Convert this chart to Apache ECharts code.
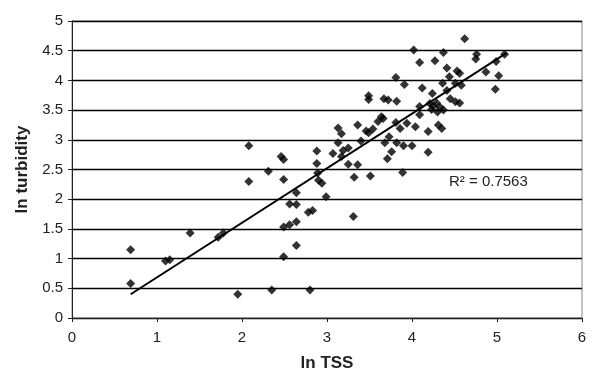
<!DOCTYPE html>
<html>
<head>
<meta charset="utf-8">
<script src="https://cdn.jsdelivr.net/npm/echarts@6/dist/echarts.min.js"></script>
<style>
  html, body { margin: 0; padding: 0; background: #fff; }
  #chart { width: 595px; height: 371px; }
</style>
</head>
<body>
<div id="chart"></div>
<script>
// ln TSS vs ln turbidity
const lnTSS = [
  0.69, 0.69, 1.10, 1.15, 1.39, 1.72, 1.78, 1.95, 2.08, 2.08,
  2.31, 2.35, 2.46, 2.49, 2.49, 2.49, 2.49, 2.56, 2.56, 2.64,
  2.64, 2.64, 2.64, 2.78, 2.80, 2.83, 2.88, 2.88, 2.89, 2.90,
  2.94, 2.99, 3.07, 3.13, 3.13, 3.17, 3.17, 3.19, 3.25, 3.25,
  3.31, 3.32, 3.36, 3.36, 3.40, 3.46, 3.49, 3.49, 3.49, 3.51,
  3.54, 3.60, 3.64, 3.66, 3.67, 3.68, 3.71, 3.72, 3.73, 3.76,
  3.81, 3.81, 3.82, 3.82, 3.86, 3.89, 3.90, 3.91, 3.94, 4.00,
  4.02, 4.04, 4.09, 4.09, 4.09, 4.12, 4.19, 4.19, 4.21, 4.23,
  4.24, 4.25, 4.27, 4.29, 4.30, 4.31, 4.33, 4.35, 4.36, 4.37,
  4.37, 4.41, 4.41, 4.44, 4.45, 4.51, 4.51, 4.53, 4.56, 4.56,
  4.58, 4.62, 4.75, 4.76, 4.87, 4.98, 4.99, 5.02, 5.09
];
const lnTurbidity = [
  1.15, 0.58, 0.96, 0.98, 1.43, 1.36, 1.43, 0.40, 2.90, 2.30,
  2.47, 0.47, 2.72, 2.67, 2.33, 1.53, 1.03, 1.57, 1.92, 1.91,
  1.62, 2.11, 1.22, 1.78, 0.47, 1.81, 2.81, 2.60, 2.44, 2.32,
  2.27, 2.04, 2.77, 3.20, 2.95, 3.10, 2.72, 2.82, 2.86, 2.59,
  1.71, 2.37, 3.25, 2.58, 2.98, 3.15, 3.12, 3.74, 3.68, 2.39,
  3.18, 3.31, 3.39, 3.36, 3.69, 2.95, 2.68, 3.67, 3.05, 2.80,
  4.05, 3.29, 3.65, 2.95, 3.19, 2.45, 2.90, 3.93, 3.28, 2.90,
  4.51, 3.22, 4.30, 3.56, 3.42, 3.87, 3.14, 2.79, 3.61, 3.51,
  3.78, 3.57, 4.33, 3.62, 3.47, 3.25, 3.55, 3.19, 3.95, 4.47,
  3.50, 4.21, 3.83, 4.06, 3.69, 3.95, 3.64, 4.16, 4.12, 3.62,
  3.92, 4.70, 4.36, 4.44, 4.14, 3.85, 4.32, 4.08, 4.44
];
// linear trendline end points
const trendX = [0.69, 5.11];
const trendY = [0.40, 4.46];
const rSquared = "R² = 0.7563";

const chart = echarts.init(document.getElementById("chart"));
const font = "Liberation Sans, Arial, sans-serif";

chart.setOption({
  animation: false,
  grid: {
    left: 72, right: 13, top: 21, bottom: 53,
    outerBoundsMode: "none",
    show: true, borderColor: "#888", borderWidth: 1
  },
  xAxis: {
    type: "value",
    min: 0, max: 6, interval: 1,
    name: "ln TSS",
    nameLocation: "middle",
    nameGap: 37,
    nameTextStyle: { fontFamily: font, fontSize: 17, fontWeight: "bold", color: "#222" },
    axisLine: { show: true, onZero: false, lineStyle: { color: "#222", width: 1 } },
    axisTick: { show: true, length: 4, lineStyle: { color: "#222" } },
    axisLabel: { fontFamily: font, fontSize: 15, color: "#222", margin: 12 },
    splitLine: { show: false }
  },
  yAxis: {
    type: "value",
    min: 0, max: 5, interval: 0.5,
    name: "ln turbidity",
    nameLocation: "middle",
    nameGap: 38,
    nameTextStyle: { fontFamily: font, fontSize: 17, fontWeight: "bold", color: "#222" },
    axisLine: { show: true, onZero: false, lineStyle: { color: "#222", width: 1 } },
    axisTick: { show: true, length: 4, lineStyle: { color: "#222" } },
    axisLabel: { fontFamily: font, fontSize: 15, color: "#222", margin: 9 },
    splitLine: { show: true, lineStyle: { color: "#000", width: 1.3 } }
  },
  series: [
    {
      type: "scatter",
      symbol: "diamond",
      symbolSize: 9,
      itemStyle: { color: "#000" },
      data: lnTSS.map((x, i) => [x, lnTurbidity[i]]),
      z: 3
    },
    {
      type: "line",
      data: trendX.map((x, i) => [x, trendY[i]]),
      showSymbol: false,
      symbol: "none",
      lineStyle: { color: "#000", width: 2 },
      z: 4
    }
  ],
  graphic: [
    {
      type: "text",
      left: 449,
      top: 174,
      style: { text: rSquared, font: "15px " + font, fill: "#222" }
    }
  ]
});
</script>
</body>
</html>
